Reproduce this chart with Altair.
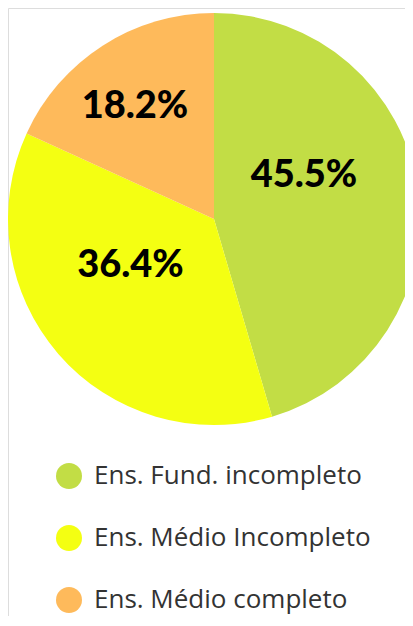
import altair as alt
import pandas as pd

categories = ["Ens. Fund. incompleto", "Ens. Médio Incompleto", "Ens. Médio completo"]
values = [45.5, 36.4, 18.2]
labels = ["45.5%", "36.4%", "18.2%"]
colors = ["#C2DD45", "#F4FF12", "#FEBA5B"]
order = [0, 1, 2]

df = pd.DataFrame({"cat": categories, "value": values, "label": labels, "ord": order})

CX, CY, R = 206, 211, 206

base = alt.Chart(df).encode(
    theta=alt.Theta("value:Q", stack=True),
    order=alt.Order("ord:Q"),
)

color = alt.Color(
    "cat:N",
    scale=alt.Scale(domain=categories, range=colors),
    sort=categories,
    legend=alt.Legend(
        title=None,
        orient="none",
        legendX=48,
        legendY=455,
        symbolType="circle",
        symbolSize=676,
        symbolStrokeWidth=0,
        symbolOpacity=1,
        labelFontSize=26,
        labelFont="Open Sans",
        labelColor="#333333",
        labelOffset=12,
        rowPadding=36,
        padding=0,
        labelLimit=400,
    ),
)

arcs = base.mark_arc(outerRadius=R, strokeWidth=0, clip=True).encode(
    color=color,
    x=alt.value(CX),
    y=alt.value(CY),
)

offsets = {"45.5%": (-9, -29), "36.4%": (-8, -18), "18.2%": (-25, -28)}
texts = []
for lab in labels:
    dx, dy = offsets[lab]
    t = base.mark_text(
        radius=100, fontSize=38, fontWeight=900, font="Lato", color="#000000",
        dx=dx, dy=dy, baseline="middle", align="center",
    ).encode(
        text=alt.Text("label:N"),
        x=alt.value(CX),
        y=alt.value(CY),
        opacity=alt.condition(alt.datum.label == lab, alt.value(1), alt.value(0)),
    )
    texts.append(t)

chart = alt.layer(arcs, *texts).properties(
    width=397, height=608, padding=0
).configure_view(stroke="transparent", strokeWidth=0).configure(background="#ffffff")

chart.save("out.html", embed_options={"renderer": "svg", "actions": False})
